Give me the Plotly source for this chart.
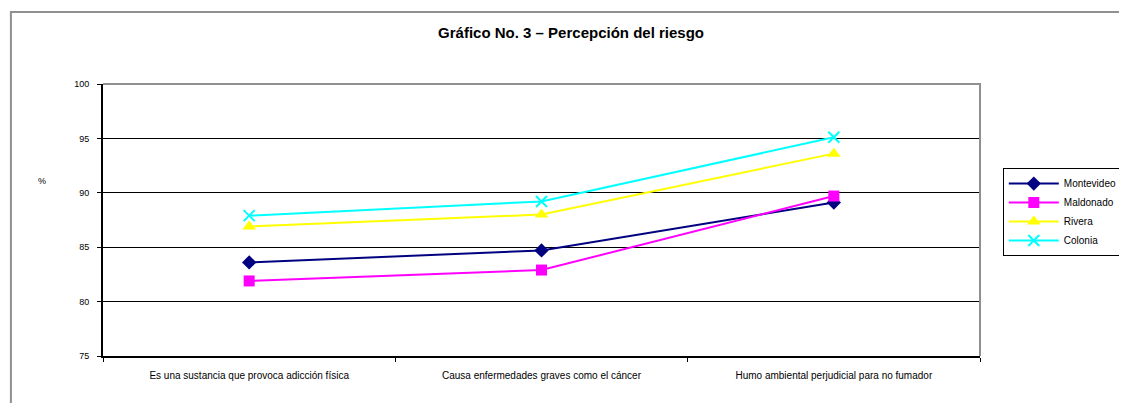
import plotly.graph_objects as go

categories = ["Es una sustancia que provoca adicción física",
              "Causa enfermedades graves como el cáncer",
              "Humo ambiental perjudicial para no fumador"]
montevideo = [83.6, 84.7, 89.1]
maldonado = [81.9, 82.9, 89.7]
rivera = [86.9, 88.0, 93.6]
colonia = [87.9, 89.2, 95.1]
y_ticks = [75, 80, 85, 90, 95, 100]

series = [
    ("Montevideo", montevideo, "#000080", dict(symbol="diamond", size=11)),
    ("Maldonado", maldonado, "#FF00FF", dict(symbol="square", size=11)),
    ("Rivera", rivera, "#FFFF00", dict(symbol="triangle-up", size=12)),
    ("Colonia", colonia, "#00FFFF", dict(symbol="x-thin-open", size=11)),
]

fig = go.Figure()
for name, vals, color, mk in series:
    marker = dict(color=color, **mk)
    if mk["symbol"] == "x-thin-open":
        marker["line"] = dict(color=color, width=2)
    fig.add_trace(go.Scatter(x=categories, y=vals, name=name, mode="lines+markers",
                             line=dict(color=color, width=2), marker=marker))

font_family = "Liberation Sans, Arial, sans-serif"
fig.update_layout(
    width=1127, height=403,
    margin=dict(l=95, r=147, t=76, b=55),
    paper_bgcolor="white", plot_bgcolor="white",
    font=dict(family=font_family, size=10, color="black"),
    title=dict(text="<b>Gráfico No. 3 – Percepción del riesgo</b>",
               x=0.4996, xref="container", y=0.938, yref="container",
               xanchor="center", yanchor="middle",
               font=dict(size=15, family=font_family, color="black")),
    showlegend=True,
    legend=dict(x=1.026, y=0.691, xanchor="left", yanchor="top",
                bordercolor="black", borderwidth=1, bgcolor="white",
                font=dict(size=10, family=font_family),
                tracegroupgap=3, itemwidth=50),
    xaxis=dict(type="category", showgrid=False, showline=True, linecolor="black",
               linewidth=2, ticks="outside", tickson="boundaries", ticklen=4,
               tickcolor="black", tickfont=dict(size=10), range=[-0.5, 2.5],
               ticklabelstandoff=9),
    yaxis=dict(range=[75, 100], tickvals=y_ticks, showgrid=True, gridcolor="black",
               gridwidth=1, showline=True, linecolor="black", linewidth=2,
               ticks="outside", ticklen=4, tickcolor="black", tickfont=dict(size=9),
               zeroline=False, ticklabelstandoff=6),
    shapes=[
        dict(type="path", xref="paper", yref="paper", path="M 0,1 L 1,1 L 1,0",
             line=dict(color="#909090", width=2), layer="above"),
        dict(type="rect", xref="paper", yref="paper", x0=-0.105, y0=-0.4, x1=1.2, y1=1.265,
             line=dict(color="#909090", width=2), layer="below"),
    ],
    annotations=[
        dict(text="%", xref="paper", yref="paper", x=-0.076, y=0.643,
             showarrow=False, font=dict(size=9)),
    ],
)

fig.write_html("out.html")
